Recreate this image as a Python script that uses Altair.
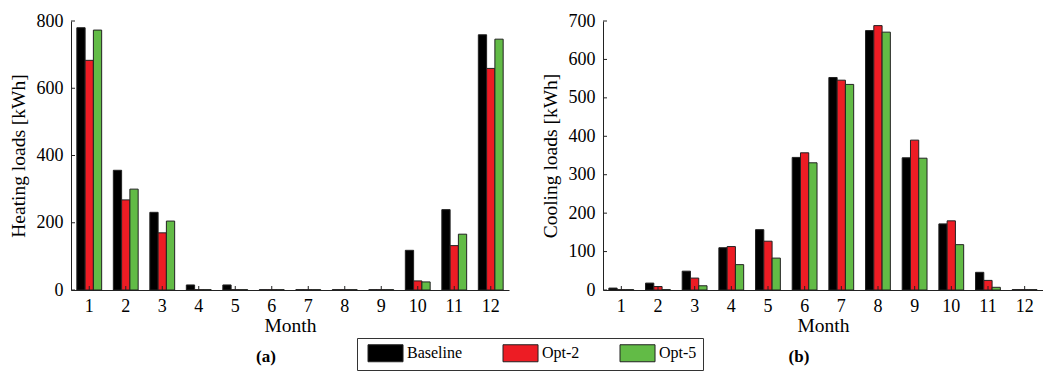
import altair as alt
import pandas as pd

months = list(range(1, 13))
series = ["Baseline", "Opt-2", "Opt-5"]
colors = ["#000000", "#ED1C24", "#62BB46"]

heating_baseline = [780, 356, 231, 15, 15, 1, 1, 1, 1, 118, 239, 759]
heating_opt2 = [683, 268, 170, 1, 1, 1, 1, 1, 1, 27, 132, 659]
heating_opt5 = [773, 300, 205, 1, 1, 1, 1, 1, 1, 24, 166, 746]

cooling_baseline = [5, 18, 49, 110, 157, 345, 553, 675, 344, 172, 46, 1]
cooling_opt2 = [1, 9, 31, 113, 127, 357, 546, 688, 390, 180, 25, 1]
cooling_opt5 = [1, 1, 11, 66, 83, 331, 535, 671, 343, 118, 7, 1]

heating_ticks = [0, 200, 400, 600, 800]
cooling_ticks = [0, 100, 200, 300, 400, 500, 600, 700]

FONT = "Liberation Serif"


def long_df(b, o2, o5):
    rows = []
    for i, m in enumerate(months):
        for s, vals in zip(series, [b, o2, o5]):
            rows.append({"Month": m, "Series": s, "Value": vals[i]})
    return pd.DataFrame(rows)


def panel(df, ticks, ymax, title, tag, width, height, show_legend):
    xscale = alt.Scale(paddingInner=0.32, paddingOuter=0.16)
    xaxis = alt.Axis(labelAngle=0, ticks=False, labelPadding=7,
                     titlePadding=1, labelFont=FONT, titleFont=FONT)
    yscale = alt.Scale(domain=[0, ymax], nice=False)
    yaxis = alt.Axis(values=ticks, ticks=False, labelPadding=8,
                     titlePadding=8, labelOverlap=False,
                     labelFont=FONT, titleFont=FONT)
    legend = None
    if show_legend:
        legend = alt.Legend(
            orient="none", legendX=286, legendY=317, direction="horizontal",
            columns=3, title=None, padding=6, strokeColor="#333333",
            symbolType="M-0.47,-1H3.65V1H-0.47Z", symbolSize=289,
            symbolStrokeColor="#222222", symbolStrokeWidth=1,
            labelOffset=26, columnPadding=35, labelFont=FONT,
            labelFontSize=16, labelColor="#000000", symbolOpacity=1,
        )
    bars = alt.Chart(df).mark_bar(stroke="#222222", strokeWidth=1).encode(
        x=alt.X("Month:O", title="Month", scale=xscale, axis=xaxis),
        xOffset=alt.XOffset("Series:N", sort=series,
                            scale=alt.Scale(paddingInner=0, paddingOuter=0)),
        y=alt.Y("Value:Q", title=title, scale=yscale, axis=yaxis),
        color=alt.Color("Series:N", sort=series,
                        scale=alt.Scale(domain=series, range=colors),
                        legend=legend),
    )
    xt = alt.Chart(pd.DataFrame({"Month": months})).mark_rule(
        color="#222222", strokeWidth=1).encode(
        x=alt.X("Month:O", title="Month", scale=xscale, axis=xaxis),
        y=alt.value(height), y2=alt.value(height - 4))
    yt = alt.Chart(pd.DataFrame({"Value": ticks})).mark_rule(
        color="#222222", strokeWidth=1).encode(
        y=alt.Y("Value:Q", title=title, scale=yscale, axis=yaxis),
        x=alt.value(0), x2=alt.value(4))
    lab = alt.Chart(pd.DataFrame({"t": [tag]})).mark_text(
        font=FONT, fontSize=17, fontWeight="bold", color="#000000",
        baseline="middle", align="center").encode(
        text="t:N", x=alt.value(width / 2 - 24), y=alt.value(height + 67))
    return alt.layer(bars, xt, yt, lab).properties(width=width, height=height)


left = panel(long_df(heating_baseline, heating_opt2, heating_opt5),
             heating_ticks, 800, "Heating loads [kWh]", "(a)", 438, 269, True)
right = panel(long_df(cooling_baseline, cooling_opt2, cooling_opt5),
              cooling_ticks, 700, "Cooling loads [kWh]", "(b)", 440, 269, False)

chart = alt.hconcat(left, right, spacing=94, bounds="flush").properties(
    padding={"left": 8, "top": 12, "right": 0, "bottom": 0},
    background="#ffffff",
).configure_view(stroke=None).configure_axis(
    labelFont=FONT, titleFont=FONT, labelFontSize=18, titleFontSize=19.5,
    titleFontWeight="normal", labelColor="#000000", titleColor="#000000",
    domainColor="#222222", domainWidth=1, grid=False,
).configure_legend(labelFont=FONT)

chart.save("out.html", embed_options={"renderer": "svg", "actions": False})
